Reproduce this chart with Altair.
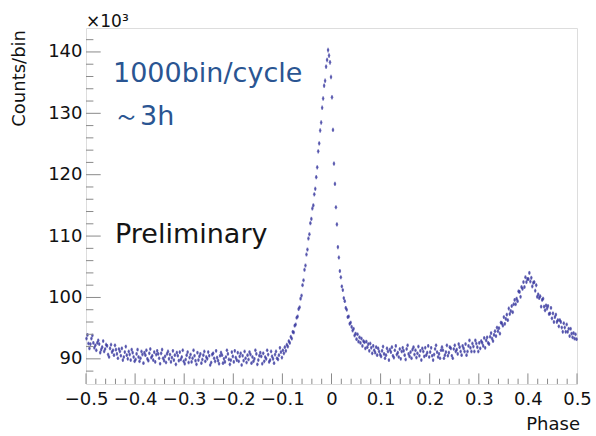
import math
import pandas as pd
import altair as alt

# ---------------- data (counts per bin, in units of 10^3) ----------------
PHASE_MIN = -0.5
BIN_WIDTH = 0.002   # 500 bins shown across one cycle

counts_m050_m040 = [93.3, 93.9, 92.5, 91.7, 92.4, 93.3, 93.8, 92.6, 91.8, 92.2,
                    91.4, 92.6, 93.0, 92.4, 91.0, 91.5, 91.9, 92.9, 91.2, 91.6,
                    92.3, 92.1, 90.7, 90.3, 91.7, 92.3, 91.1, 91.4, 90.6, 92.2,
                    91.5, 90.8, 90.1, 91.6, 91.2, 90.5, 91.7, 89.8, 90.3, 91.1,
                    92.0, 90.6, 90.0, 91.2, 90.7, 89.8, 91.5, 91.0, 90.3, 89.6]
counts_m040_m030 = [89.9, 90.8, 91.5, 90.3, 89.6, 90.1, 91.2, 90.7, 89.3, 91.0,
                    90.6, 91.4, 90.0, 89.7, 90.9, 91.6, 90.2, 90.5, 89.8, 91.1,
                    89.5, 90.7, 91.3, 90.8, 90.1, 89.2, 90.9, 91.5, 90.1, 89.7,
                    90.4, 89.4, 90.8, 91.2, 90.0, 90.7, 89.5, 90.2, 91.3, 89.8,
                    90.6, 89.1, 91.0, 90.5, 89.7, 91.1, 89.9, 90.3, 91.4, 89.6]
counts_m030_m020 = [89.2, 89.9, 90.6, 91.1, 89.4, 90.2, 90.7, 89.5, 90.1, 91.4,
                    90.5, 89.7, 89.1, 91.0, 89.8, 90.4, 90.8, 89.3, 89.9, 90.6,
                    91.2, 89.6, 90.3, 90.0, 91.1, 90.5, 89.0, 89.4, 90.7, 90.9,
                    90.1, 89.6, 91.3, 90.2, 89.7, 89.2, 90.5, 91.0, 90.6, 89.3,
                    90.0, 89.5, 90.3, 91.4, 90.8, 89.9, 89.1, 89.8, 91.1, 90.4]
counts_m020_m010 = [89.5, 91.3, 90.2, 89.8, 91.0, 89.6, 90.4, 90.9, 89.0, 90.5,
                    89.7, 91.2, 90.1, 89.4, 90.6, 89.9, 91.1, 90.7, 89.3, 90.3,
                    89.6, 90.0, 91.4, 90.8, 89.1, 89.8, 90.5, 91.0, 90.4, 89.2,
                    90.9, 89.6, 90.3, 90.0, 91.4, 90.7, 89.5, 89.8, 91.2, 90.4,
                    90.0, 89.3, 90.7, 91.2, 90.1, 89.9, 90.6, 91.8, 91.1, 90.2]
counts_m010_p000 = [91.4, 90.9, 91.9, 91.3, 92.3, 92.0, 92.9, 92.6, 93.6, 93.3,
                    94.4, 94.3, 95.4, 95.6, 96.7, 96.9, 98.1, 98.4, 99.8, 100.3,
                    102.0, 102.8, 104.5, 105.2, 107.0, 107.8, 109.6, 110.3, 112.1, 112.8,
                    114.5, 115.0, 116.8, 117.7, 119.6, 121.2, 123.8, 125.1, 127.2, 128.5,
                    130.9, 132.4, 134.5, 135.3, 137.6, 138.7, 140.3, 139.4, 138.3, 135.9]
counts_p000_p010 = [132.6, 127.3, 121.8, 118.5, 114.7, 111.9, 108.2, 106.5, 104.3, 103.3,
                    101.8, 101.2, 99.9, 99.4, 98.3, 98.0, 96.8, 96.9, 95.7, 95.9,
                    95.2, 94.6, 94.9, 93.8, 94.1, 93.2, 94.0, 92.8, 93.5, 92.6,
                    93.3, 92.1, 92.9, 92.7, 91.7, 92.8, 91.9, 92.4, 91.3, 92.5,
                    91.8, 90.9, 92.1, 91.4, 91.0, 91.9, 90.6, 91.7, 91.2, 90.7]
counts_p010_p020 = [90.4, 91.3, 92.0, 90.8, 90.1, 90.6, 91.7, 91.2, 89.8, 91.5,
                    91.1, 91.9, 90.5, 90.2, 91.4, 92.1, 90.7, 91.0, 90.3, 91.6,
                    90.0, 91.2, 91.8, 91.3, 90.6, 89.9, 91.6, 92.2, 90.8, 90.4,
                    91.1, 90.1, 91.5, 91.9, 90.7, 91.4, 90.2, 90.9, 92.0, 90.5,
                    91.3, 89.8, 91.7, 91.2, 90.4, 91.8, 90.6, 91.0, 92.1, 90.3]
counts_p020_p030 = [91.1, 91.8, 90.5, 89.8, 90.7, 91.6, 92.2, 91.1, 90.3, 90.8,
                    90.1, 91.4, 91.9, 91.4, 90.1, 90.6, 91.1, 92.2, 90.5, 91.0,
                    91.9, 91.7, 90.5, 90.1, 91.6, 92.2, 91.2, 91.5, 90.8, 92.4,
                    91.9, 91.2, 90.6, 92.1, 91.7, 91.2, 92.4, 90.6, 91.2, 92.1,
                    93.0, 91.8, 91.2, 92.5, 92.0, 91.2, 93.0, 92.5, 91.9, 91.2]
counts_p030_p040 = [92.6, 91.7, 92.9, 92.6, 92.1, 93.4, 91.8, 93.0, 93.5, 92.6,
                    92.4, 93.6, 94.2, 93.3, 92.9, 93.9, 94.5, 93.7, 95.1, 94.5,
                    95.0, 94.1, 95.9, 95.8, 95.4, 96.8, 95.7, 96.5, 97.2, 96.3,
                    98.2, 97.3, 97.8, 98.6, 97.6, 98.9, 99.6, 98.9, 99.8, 99.4,
                    101.0, 100.9, 100.1, 101.7, 101.4, 102.5, 101.7, 103.3, 102.5, 103.0]
counts_p040_p050 = [103.0, 104.0, 102.6, 103.2, 101.8, 102.4, 102.5, 101.1, 102.0, 100.1,
                    100.5, 99.9, 100.2, 98.5, 99.6, 99.8, 98.5, 97.9, 98.7, 98.2,
                    98.6, 97.3, 97.4, 98.3, 96.6, 97.4, 96.0, 96.8, 97.2, 96.0,
                    96.3, 95.3, 96.3, 96.0, 95.1, 94.4, 95.8, 95.1, 94.4, 95.6,
                    94.4, 94.9, 93.7, 94.9, 94.1, 93.5, 94.2, 93.3, 94.0, 93.2]

counts = (counts_m050_m040 + counts_m040_m030 + counts_m030_m020 + counts_m020_m010
          + counts_m010_p000 + counts_p000_p010 + counts_p010_p020 + counts_p020_p030
          + counts_p030_p040 + counts_p040_p050)

phase = [round(PHASE_MIN + BIN_WIDTH * (i + 0.5), 4) for i in range(len(counts))]
err = [math.sqrt(c * 1000.0) / 1000.0 for c in counts]   # Poisson error, in 10^3

df = pd.DataFrame({
    "phase": phase,
    "counts": counts,
    "lo": [c - e for c, e in zip(counts, err)],
    "hi": [c + e for c, e in zip(counts, err)],
})

x_major = [-0.5, -0.4, -0.3, -0.2, -0.1, 0.0, 0.1, 0.2, 0.3, 0.4, 0.5]
x_minor = [round(-0.5 + 0.02 * k, 2) for k in range(51) if k % 5 != 0]
y_major = [90, 100, 110, 120, 130, 140]
y_minor = [88, 92, 94, 96, 98, 102, 104, 106, 108, 112, 114, 116, 118,
           122, 124, 126, 128, 132, 134, 136, 138, 142]

# ---------------- layout ----------------
W, H = 491, 356
X_DOMAIN = [-0.5, 0.5]
Y_DOMAIN = [85.9, 143.9]
DATA_COLOR = "#33339c"
FRAME = "#8a8a8a"
AX_FONT = "DejaVu Sans"
LABEL_COLOR = "#111111"

xs = alt.Scale(domain=X_DOMAIN, nice=False, zero=False)
ys = alt.Scale(domain=Y_DOMAIN, nice=False, zero=False)

x_axis = alt.Axis(values=x_major, ticks=False, domain=False, grid=False,
                  labelFont=AX_FONT, labelFontSize=18, labelColor=LABEL_COLOR,
                  labelPadding=6, labelFlush=False, labelOverlap=False,
                  labelExpr="datum.value == 0 ? '0' : format(datum.value, '.1f')",
                  title=None)
y_axis = alt.Axis(values=y_major, ticks=False, domain=False, grid=False,
                  labelFont=AX_FONT, labelFontSize=18, labelColor=LABEL_COLOR,
                  labelPadding=4, labelOverlap=False, format="d", title=None)

base = alt.Chart(df)

errbars = base.mark_rule(color=DATA_COLOR, strokeWidth=1.5, opacity=0.6).encode(
    x=alt.X("phase:Q", scale=xs, axis=x_axis),
    y=alt.Y("lo:Q", scale=ys, axis=y_axis),
    y2="hi:Q",
)
points = base.mark_circle(color=DATA_COLOR, size=7, opacity=0.6).encode(
    x=alt.X("phase:Q", scale=xs, axis=x_axis),
    y=alt.Y("counts:Q", scale=ys, axis=y_axis),
)

xmaj = alt.Chart(pd.DataFrame({"v": x_major})).mark_rule(color=FRAME, strokeWidth=1).encode(
    x=alt.X("v:Q", scale=xs, axis=x_axis), y=alt.value(H), y2=alt.value(H - 10.6))
xmin = alt.Chart(pd.DataFrame({"v": x_minor})).mark_rule(color=FRAME, strokeWidth=1).encode(
    x=alt.X("v:Q", scale=xs, axis=x_axis), y=alt.value(H), y2=alt.value(H - 5.3))
ymaj = alt.Chart(pd.DataFrame({"v": y_major})).mark_rule(color=FRAME, strokeWidth=1).encode(
    y=alt.Y("v:Q", scale=ys, axis=y_axis), x=alt.value(0), x2=alt.value(14.7))
ymin = alt.Chart(pd.DataFrame({"v": y_minor})).mark_rule(color=FRAME, strokeWidth=1).encode(
    y=alt.Y("v:Q", scale=ys, axis=y_axis), x=alt.value(0), x2=alt.value(7.4))


def label(text, x, y, size, color, font=AX_FONT, align="left", angle=0):
    return alt.Chart(pd.DataFrame({"t": [text]})).mark_text(
        align=align, baseline="alphabetic", font=font, fontSize=size,
        color=color, angle=angle).encode(
        x=alt.value(x), y=alt.value(y), text="t:N")


texts = [
    label("1000bin/cycle", 27, 54, 27, "#2a5592"),
    label("～3h", 27, 97, 27, "#2a5592"),
    label("Preliminary", 29, 215, 27, "#151515"),
    label("Counts/bin", -61, 2, 18, LABEL_COLOR, align="right", angle=270),
    label("Phase", 494, 402, 18, LABEL_COLOR, align="right"),
    label("×10³", 0, -1, 17, LABEL_COLOR),
]

chart = alt.layer(errbars, points, xmaj, xmin, ymaj, ymin, *texts).properties(
    width=W, height=H,
    padding={"left": 86, "top": 28, "right": 19, "bottom": 52},
    autosize=alt.AutoSizeParams(type="none"),
).configure_view(stroke=FRAME, strokeWidth=1.2).configure(background="white")

chart.save("out.html", embed_options={"renderer": "svg", "actions": False})
